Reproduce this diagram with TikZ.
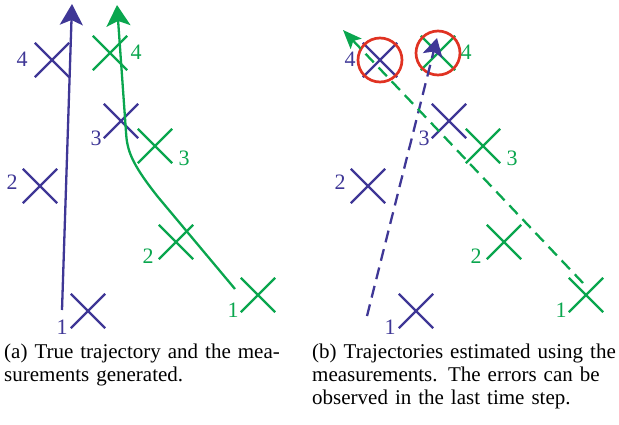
\documentclass[tikz,border=0pt]{standalone}
\usepackage{fontspec}
\setmainfont{Liberation Serif}
\usetikzlibrary{arrows.meta}
\usetikzlibrary{shapes.misc}
\definecolor{tracka}{RGB}{63,55,150}
\definecolor{trackb}{RGB}{10,166,78}
\definecolor{errred}{RGB}{224,50,34}

\begin{document}
\begin{tikzpicture}[x=1pt,y=-1pt,
    meas/.style={cross out, draw, line width=2.3pt, minimum size=32pt, inner sep=0pt},
    num/.style={inner sep=0pt, font=\fontsize{22}{22}\selectfont},
    errc/.style={circle, draw=errred, line width=2.7pt, minimum size=44pt, inner sep=0pt},
    traj/.style={line width=2.3pt},
    capbox/.style={text width=303pt, align=left, inner sep=0pt, font=\fontsize{21}{23}\selectfont}]
        \useasboundingbox (0,0) rectangle (619,424);

        % Decalage du second panneau
        \def\dx{328}

        % Mesures (a)
        \node[meas, tracka] (la1) at (88,311) {};
        \node[meas, tracka] (la2) at (40,186) {};
        \node[meas, tracka] (la3) at (121,121) {};
        \node[meas, tracka] (la4) at (52,60) {};
        \node[meas, trackb] (lb1) at (258,295) {};
        \node[meas, trackb] (lb2) at (176,242) {};
        \node[meas, trackb] (lb3) at (155,146) {};
        \node[meas, trackb] (lb4) at (110,53) {};

        \node[num, tracka] (la1n) at (62,327) {1};
        \node[num, tracka] (la2n) at (12,182) {2};
        \node[num, tracka] (la3n) at (96,138) {3};
        \node[num, tracka] (la4n) at (22,59) {4};
        \node[num, trackb] (lb1n) at (233,310) {1};
        \node[num, trackb] (lb2n) at (148,256) {2};
        \node[num, trackb] (lb3n) at (184,158) {3};
        \node[num, trackb] (lb4n) at (136,52) {4};

        % Vraies trajectoires
        \coordinate (ta0) at (62,310);
        \coordinate (ta1) at (72,4);
        \coordinate (tb0) at (235,289);
        \coordinate (tb1) at (117,5);
        \draw[traj, tracka, -{Stealth[length=21pt, width=23pt, inset=5pt]}] (ta0) -- (ta1);
        \draw[traj, trackb, -{Stealth[length=21pt, width=24pt, inset=5pt]}] (tb0) -- (158,197)
            .. controls (131,163) and (127,150) .. (126,132) -- (tb1);

        % Mesures (b)
        \node[meas, tracka] (ra1) at (\dx+88,311) {};
        \node[meas, tracka] (ra2) at (\dx+40,186) {};
        \node[meas, tracka] (ra3) at (\dx+121,121) {};
        \node[meas, tracka] (ra4) at (\dx+52,60) {};
        \node[meas, trackb] (rb1) at (\dx+258,295) {};
        \node[meas, trackb] (rb2) at (\dx+176,242) {};
        \node[meas, trackb] (rb3) at (\dx+155,146) {};
        \node[meas, trackb] (rb4) at (\dx+110,53) {};

        \node[num, tracka] (ra1n) at (\dx+62,327) {1};
        \node[num, tracka] (ra2n) at (\dx+12,182) {2};
        \node[num, tracka] (ra3n) at (\dx+96,138) {3};
        \node[num, tracka] (ra4n) at (\dx+22,59) {4};
        \node[num, trackb] (rb1n) at (\dx+233,310) {1};
        \node[num, trackb] (rb2n) at (\dx+148,256) {2};
        \node[num, trackb] (rb3n) at (\dx+184,158) {3};
        \node[num, trackb] (rb4n) at (\dx+138,52) {4};

        % Erreurs
        \node[errc] (ea) at (ra4) {};
        \node[errc] (eb) at (rb4) {};

        % Trajectoires estimees
        \coordinate (sa0) at (367,316);
        \coordinate (sa1) at (437,38);
        \coordinate (sb0) at (583,283);
        \coordinate (sb1) at (343,30);
        \draw[traj, tracka, dash pattern=on 12pt off 7pt, -{Stealth[length=18pt, width=20pt, inset=4pt]}] (sa0) -- (sa1);
        \draw[traj, trackb, dash pattern=on 12pt off 7pt, -{Stealth[length=19pt, width=15pt, inset=4pt]}] (sb0) -- (sb1);

        % Legendes
        \node[capbox, anchor=base west] (capa) at (4,358)
            {\makebox[\linewidth][s]{(a) True trajectory and the mea-}\\surements generated.};
        \node[capbox, anchor=base west] (capb) at (312,358)
            {\makebox[\linewidth][s]{(b) Trajectories estimated using the}\\
             \makebox[\linewidth][s]{measurements. The errors can be}\\
             observed in the last time step.};
    \end{tikzpicture}
\end{document}
